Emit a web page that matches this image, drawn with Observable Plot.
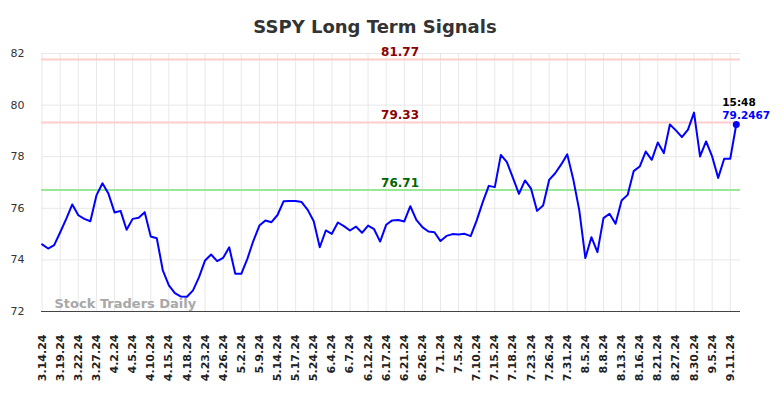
<!DOCTYPE html>
<html>
<head>
<meta charset="utf-8">
<script src="https://cdn.jsdelivr.net/npm/d3@7"></script>
<script src="https://cdn.jsdelivr.net/npm/@observablehq/plot@0.6"></script>
<style>
  html, body { margin: 0; padding: 0; background: #fff; }
  #chart svg { display: block; }
</style>
</head>
<body>
<div id="chart"></div>
<script>
const titleText = "SSPY Long Term Signals";
const watermark = "Stock Traders Daily";
const dateLabels = ["3.14.24","3.19.24","3.22.24","3.27.24","4.2.24","4.5.24","4.10.24","4.15.24","4.18.24","4.23.24","4.26.24","5.2.24","5.9.24","5.14.24","5.17.24","5.24.24","6.4.24","6.7.24","6.12.24","6.17.24","6.21.24","6.26.24","7.1.24","7.5.24","7.10.24","7.15.24","7.18.24","7.23.24","7.26.24","7.31.24","8.5.24","8.8.24","8.13.24","8.16.24","8.21.24","8.27.24","8.30.24","9.5.24","9.11.24"];
const labelStep = 3;
const prices = [74.60,74.44,74.57,75.07,75.59,76.15,75.73,75.59,75.50,76.50,
  76.97,76.56,75.84,75.90,75.17,75.59,75.63,75.85,74.91,74.84,
  73.59,73.01,72.71,72.58,72.57,72.82,73.33,73.98,74.21,73.95,
  74.08,74.49,73.46,73.46,74.04,74.74,75.33,75.53,75.46,75.74,
  76.27,76.28,76.28,76.24,75.94,75.50,74.49,75.14,75.01,75.45,
  75.31,75.14,75.29,75.05,75.33,75.19,74.71,75.36,75.53,75.55,
  75.49,76.08,75.55,75.27,75.10,75.07,74.73,74.93,75.00,74.98,
  75.01,74.92,75.53,76.24,76.87,76.82,78.07,77.79,77.18,76.56,
  77.08,76.76,75.90,76.11,77.10,77.36,77.70,78.09,77.12,75.91,
  74.07,74.88,74.30,75.62,75.79,75.40,76.30,76.52,77.44,77.62,
  78.20,77.88,78.55,78.14,79.25,79.02,78.76,79.05,79.71,78.01,
  78.59,78.01,77.18,77.92,77.92,79.2467];
const resistance = [81.77, 79.33];
const support = [76.71];
const yTicks = [72, 74, 76, 78, 80, 82];
const lastTime = "15:48";

const series = prices.map((v, i) => ({i, v}));
const tickIdx = dateLabels.map((d, k) => k * labelStep);
const last = series[series.length - 1];
const levels = [
  ...resistance.map(v => ({v, kind: "r"})),
  ...support.map(v => ({v, kind: "s"}))
];

const chart = Plot.plot({
  width: 784,
  height: 398,
  marginTop: 53,
  marginBottom: 87,
  marginLeft: 41,
  marginRight: 44,
  style: {fontFamily: "DejaVu Sans", fontSize: "11px", background: "#fff", overflow: "visible"},
  x: {domain: [-0.1, prices.length - 1 + 0.7], axis: null},
  y: {domain: [72, 82], axis: null},
  marks: [
    Plot.ruleX(tickIdx, {stroke: "#e8e8e8", strokeWidth: 1}),
    Plot.ruleY(yTicks.slice(1), {stroke: "#e8e8e8", strokeWidth: 1}),
    Plot.ruleY(levels, {y: "v", stroke: d => d.kind === "r" ? "#ffcccc" : "#98e898", strokeWidth: 2}),
    Plot.text(levels, {x: 59.3, y: "v", text: d => d.v.toFixed(2), fill: d => d.kind === "r" ? "#8b0000" : "#006400",
      fontWeight: "bold", fontSize: 12, lineAnchor: "bottom", dy: -3}),
    Plot.ruleY([72], {stroke: "#444", strokeWidth: 1.2}),
    Plot.axisY({ticks: yTicks, label: null, tickSize: 0, tickPadding: 17, fontSize: 11, fill: "#333"}),
    Plot.axisX({ticks: tickIdx, label: null, tickFormat: i => dateLabels[i / labelStep], tickRotate: -90, tickSize: 0, tickPadding: 23,
      fontWeight: "bold", fontSize: 11, fill: "#222"}),
    Plot.text([watermark], {frameAnchor: "bottom-left", text: d => d, dx: 13, dy: -4, lineAnchor: "bottom",
      fill: "#a8a8a8", fontWeight: "bold", fontSize: 13}),
    Plot.line(series, {x: "i", y: "v", stroke: "#0000ff", strokeWidth: 2}),
    Plot.dot([last], {x: "i", y: "v", r: 3.5, fill: "#0000ff"}),
    Plot.text([last], {x: "i", y: "v", text: () => lastTime, textAnchor: "start", lineAnchor: "bottom", dx: -14, dy: -19,
      fill: "#000", fontWeight: "bold", fontSize: 10.5}),
    Plot.text([last], {x: "i", y: "v", text: d => String(d.v), textAnchor: "start", lineAnchor: "bottom", dx: -14, dy: -5.5,
      fill: "#0000ff", fontWeight: "bold", fontSize: 10.5}),
    Plot.text([titleText], {frameAnchor: "top", text: d => d, dx: -16, dy: -21, lineAnchor: "bottom",
      fill: "#333", fontWeight: "bold", fontSize: 18})
  ]
});
document.getElementById("chart").appendChild(chart);
</script>
</body>
</html>
